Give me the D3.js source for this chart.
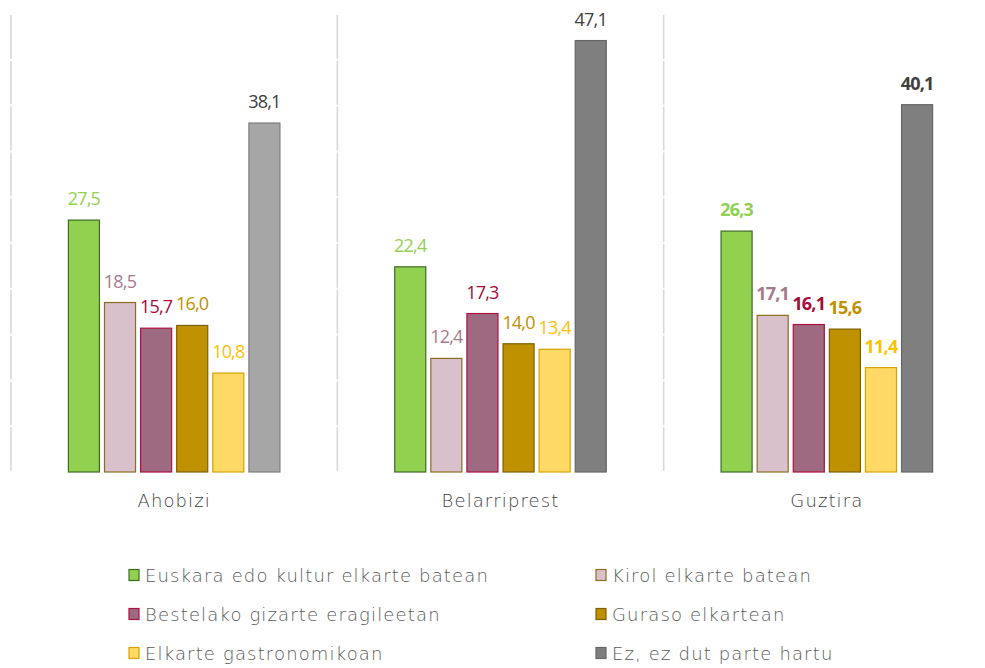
<!DOCTYPE html>
<html><head><meta charset="utf-8">
<script src="https://cdn.jsdelivr.net/npm/d3@7"></script>
<style>body{margin:0;background:#fff}svg{display:block}</style>
</head><body><svg id="chart" width="985" height="668"></svg>
<script>
// ---- data ----
const groups = ["Ahobizi", "Belarriprest", "Guztira"];
const seriesNames = ["Euskara edo kultur elkarte batean", "Kirol elkarte batean", "Bestelako gizarte eragileetan", "Guraso elkartean", "Elkarte gastronomikoan", "Ez, ez dut parte hartu"];
const euskara = [27.5, 22.4, 26.3];
const kirol = [18.5, 12.4, 17.1];
const bestelako = [15.7, 17.3, 16.1];
const guraso = [16.0, 14.0, 15.6];
const gastronomiko = [10.8, 13.4, 11.4];
const ezDut = [38.1, 47.1, 40.1];
const seriesValues = [euskara, kirol, bestelako, guraso, gastronomiko, ezDut];
const yTicks = [0, 5, 10, 15, 20, 25, 30, 35, 40, 45, 50];

// ---- styles ----
const fills = ["#92d050", "#d9c1cc", "#9e6a82", "#bf9000", "#ffd966", "#7f7f7f"];
const strokes = ["#3e6b24", "#8c6d1f", "#b0103f", "#7f6000", "#d6a300", "#666666"];
const labelColors = ["#92d050", "#a57a8f", "#a50b3b", "#bf9000", "#ffc000", "#404040"];
const firstGroupLastFill = "#a6a6a6", firstGroupLastStroke = "#7f7f7f";
const numFont = "'Open Sans', 'DejaVu Sans', sans-serif";
const textFont = "'DejaVu Sans', sans-serif";

const svg = d3.select("#chart");
const y = d3.scaleLinear().domain([0, 50]).range([472, 14]);
const x0 = d3.scaleBand().domain(groups).range([11, 990]).padding(0);
const x1 = d3.scaleBand().domain(d3.range(seriesNames.length)).range([0, x0.bandwidth()])
  .paddingInner(0.14).paddingOuter(1.59);

// separator lines (with small breaks at each tick)
const sepXs = groups.map(g => x0(g)).concat([x0.range()[1]]);
const segs = [];
sepXs.forEach(sx => {
  for (let i = 0; i < yTicks.length - 1; i++) segs.push({x: sx, a: yTicks[i], b: yTicks[i + 1]});
});
svg.append("g").selectAll("line").data(segs).join("line")
  .attr("x1", d => d.x).attr("x2", d => d.x)
  .attr("y1", d => y(d.a) - 1).attr("y2", d => y(d.b) + 1)
  .attr("stroke", "#d9d9d9").attr("stroke-width", 1.6);

const fmt = v => d3.format(".1f")(v).replace(".", ",");

const cells = [];
groups.forEach((g, gi) => seriesValues.forEach((vals, si) => cells.push({g, gi, si, v: vals[gi]})));

svg.append("g").selectAll("rect").data(cells).join("rect")
  .attr("x", d => x0(d.g) + x1(d.si))
  .attr("width", x1.bandwidth())
  .attr("y", d => y(d.v))
  .attr("height", d => y(0) - y(d.v))
  .attr("fill", d => (d.gi === 0 && d.si === 5) ? firstGroupLastFill : fills[d.si])
  .attr("stroke", d => (d.gi === 0 && d.si === 5) ? firstGroupLastStroke : strokes[d.si])
  .attr("stroke-width", 1.2);

svg.append("g").selectAll("text").data(cells).join("text")
  .attr("x", d => x0(d.g) + x1(d.si) + x1.bandwidth() / 2)
  .attr("y", d => y(d.v) - 15)
  .attr("text-anchor", "middle")
  .attr("font-family", numFont)
  .attr("font-size", 18)
  .attr("letter-spacing", -0.8)
  .attr("font-weight", d => d.gi === 2 ? 700 : 400)
  .attr("fill", d => labelColors[d.si])
  .text(d => fmt(d.v));

// category labels
svg.append("g").selectAll("text").data(groups).join("text")
  .attr("x", d => x0(d) + x0.bandwidth() / 2)
  .attr("y", 507)
  .attr("text-anchor", "middle")
  .attr("font-family", textFont).attr("font-size", 18).attr("font-weight", 200)
  .attr("letter-spacing", 1.1)
  .attr("fill", "#404040")
  .text(d => d);

// legend
const legX = [129, 596], legY = [575.5, 614.5, 653.5];
const leg = svg.append("g").selectAll("g").data(seriesNames).join("g")
  .attr("transform", (d, i) => `translate(${legX[i % 2]},${legY[Math.floor(i / 2)]})`);
leg.append("rect").attr("x", 0).attr("y", -6).attr("width", 10).attr("height", 11)
  .attr("fill", (d, i) => fills[i]).attr("stroke", (d, i) => strokes[i]).attr("stroke-width", 1.2);
leg.append("text").attr("x", 16).attr("y", 6.5)
  .attr("font-family", textFont).attr("font-size", 18).attr("font-weight", 200)
  .attr("letter-spacing", 1.15)
  .attr("fill", "#595959")
  .text(d => d);
</script>
</body></html>
